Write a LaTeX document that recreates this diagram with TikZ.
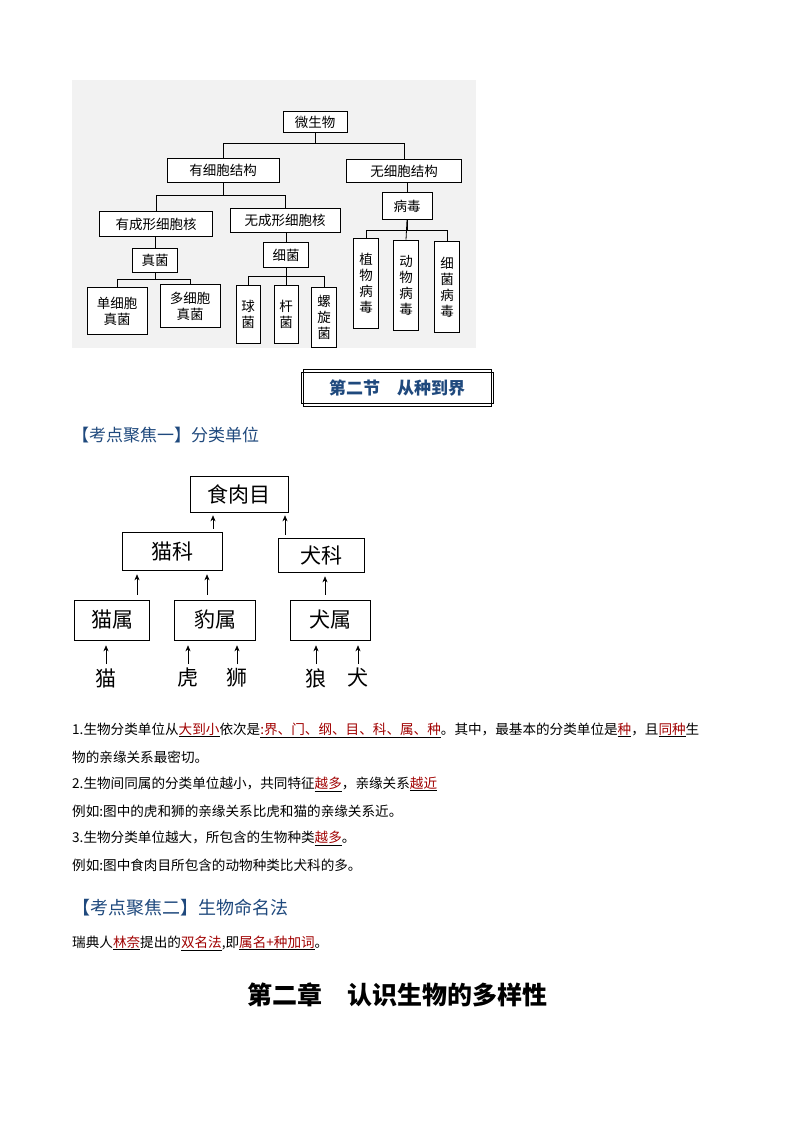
\documentclass[tikz,border=0pt]{standalone}
\usepackage{fontspec}
\setmainfont{Noto Sans CJK SC}
\usetikzlibrary{arrows.meta}
\definecolor{hblue}{RGB}{31,73,125}
\definecolor{dred}{RGB}{160,0,0}
\newcommand{\rd}[1]{\underline{\textcolor{dred}{#1}}}
\tikzset{
 b1/.style={draw,thick,fill=white,inner sep=0pt,align=center,font=\fontsize{13.5}{16}\selectfont},
 b2/.style={draw,semithick,inner sep=0pt,font=\fontsize{21}{22}\selectfont},
 lbl/.style={font=\fontsize{21}{22}\selectfont,inner sep=0pt},
 ln/.style={anchor=west,font=\fontsize{13.6}{15}\selectfont,inner sep=0pt},
 ar/.style={-{Stealth[length=6pt,width=5pt]},semithick}
}
\begin{document}
\begin{tikzpicture}[x=1pt,y=-1pt]
\useasboundingbox (0,0) rectangle (794,1123);
\fill[gray!10] (72,80) rectangle (476,348);
% top tree
\node[b1,minimum width=64pt,minimum height=21pt] (ws) at (315,122) {微生物};
\node[b1,minimum width=112pt,minimum height=24pt] (yx) at (223,170) {有细胞结构};
\node[b1,minimum width=115pt,minimum height=23pt] (wx) at (404,171) {无细胞结构};
\node[b1,minimum width=113pt,minimum height=25pt] (yc) at (156,224) {有成形细胞核};
\node[b1,minimum width=110pt,minimum height=24pt] (wc) at (285,220) {无成形细胞核};
\node[b1,minimum width=50pt,minimum height=27pt] (bd) at (407,206) {病毒};
\node[b1,minimum width=45pt,minimum height=24pt] (zj) at (155,260) {真菌};
\node[b1,minimum width=45pt,minimum height=25pt] (xj) at (286,255) {细菌};
\node[b1,minimum width=60pt,minimum height=47pt] (d1) at (117,311) {单细胞\\真菌};
\node[b1,minimum width=60pt,minimum height=43pt] (d2) at (190,306) {多细胞\\真菌};
\node[b1,minimum width=24pt,minimum height=58pt] (q1) at (248,314) {球\\菌};
\node[b1,minimum width=24pt,minimum height=58pt] (q2) at (286,314) {杆\\菌};
\node[b1,minimum width=25pt,minimum height=60pt] (q3) at (324,317) {螺\\旋\\菌};
\node[b1,minimum width=25pt,minimum height=90pt] (v1) at (366,283) {植\\物\\病\\毒};
\node[b1,minimum width=25pt,minimum height=90pt] (v2) at (406,285) {动\\物\\病\\毒};
\node[b1,minimum width=25pt,minimum height=91pt] (v3) at (447,287) {细\\菌\\病\\毒};
\draw[thick] (ws.south) -- ++(0,11) -| (yx.north);
\draw[thick] (ws.south) -- ++(0,11) -| (wx.north);
\draw[thick] (yx.south) -- ++(0,13) -| (yc.north);
\draw[thick] (yx.south) -- ++(0,13) -| (wc.north);
\draw[thick] (bd.north) -- (bd.north |- wx.south);
\draw[thick] (zj.north) -- (zj.north |- yc.south);
\draw[thick] (xj.north) -- (xj.north |- wc.south);
\draw[thick] (zj.south) -- ++(0,7) -| (d1.north);
\draw[thick] (zj.south) -- ++(0,7) -| (d2.north);
\draw[thick] (xj.south) -- ++(0,8) -| (q1.north);
\draw[thick] (xj.south) -- ++(0,8) -| (q3.north);
\draw[thick] (xj.south) -- (q2.north);
\draw[thick] (bd.south) -- ++(0,11) -| (v1.north);
\draw[thick] (bd.south) -- ++(0,11) -| (v3.north);
\draw[thick] (bd.south) -- (v2.north);
% section title
\node[draw,thick,minimum width=192pt,minimum height=31pt,text=hblue,font=\fontsize{17}{18}\selectfont\bfseries] (sec) at (397,388) {第二节\quad 从种到界};
\draw[semithick] ([shift={(2.5,-2.5)}]sec.north west) rectangle ([shift={(-2.5,2.5)}]sec.south east);
\node[anchor=west,text=hblue,font=\fontsize{17}{18}\selectfont,inner sep=0pt] (h1) at (72,435) {【考点聚焦一】分类单位};
% second tree
\node[b2,minimum width=98pt,minimum height=36pt] (sr) at (239,494) {食肉目};
\node[b2,minimum width=100pt,minimum height=38pt] (mk) at (172,551) {猫科};
\node[b2,minimum width=86pt,minimum height=34pt] (qk) at (321,555) {犬科};
\node[b2,minimum width=75pt,minimum height=40pt] (ms) at (112,620) {猫属};
\node[b2,minimum width=81pt,minimum height=40pt] (bs) at (215,620) {豹属};
\node[b2,minimum width=80pt,minimum height=40pt] (qs) at (330,620) {犬属};
\node[lbl] (m) at (106,678) {猫};
\node[lbl] (h) at (188,678) {虎};
\node[lbl] (s) at (237,678) {狮};
\node[lbl] (l) at (316,678) {狼};
\node[lbl] (q) at (358,678) {犬};
\draw[ar] ([yshift=3pt]mk.north -| 213,0) -- ([yshift=-3pt]sr.south -| 213,0);
\draw[ar] ([yshift=3pt]qk.north -| 285,0) -- ([yshift=-3pt]sr.south -| 285,0);
\draw[ar] ([yshift=5pt]ms.north -| 137,0) -- ([yshift=-4pt]mk.south -| 137,0);
\draw[ar] ([yshift=5pt]bs.north -| 207,0) -- ([yshift=-4pt]mk.south -| 207,0);
\draw[ar] ([yshift=5pt]qs.north -| 325,0) -- ([yshift=-4pt]qk.south -| 325,0);
\draw[ar] ([yshift=4pt]m.north) -- ([yshift=-5pt]ms.south -| m.north);
\draw[ar] ([yshift=4pt]h.north) -- ([yshift=-5pt]bs.south -| h.north);
\draw[ar] ([yshift=4pt]s.north) -- ([yshift=-5pt]bs.south -| s.north);
\draw[ar] ([yshift=4pt]l.north) -- ([yshift=-5pt]qs.south -| l.north);
\draw[ar] ([yshift=4pt]q.north) -- ([yshift=-5pt]qs.south -| q.north);
% text
\node[ln] (t1) at (72,730) {1.生物分类单位从\rd{大到小}依次是\rd{:界、门、纲、目、科、属、种}。其中，最基本的分类单位是\rd{种}，且\rd{同种}生};
\node[ln] (t2) at (72,757) {物的亲缘关系最密切。};
\node[ln] (t3) at (72,784) {2.生物间同属的分类单位越小，共同特征\rd{越多}，亲缘关系\rd{越近}};
\node[ln] (t4) at (72,811) {例如:图中的虎和狮的亲缘关系比虎和猫的亲缘关系近。};
\node[ln] (t5) at (72,838) {3.生物分类单位越大，所包含的生物种类\rd{越多}。};
\node[ln] (t6) at (72,865) {例如:图中食肉目所包含的动物种类比犬科的多。};
\node[anchor=west,text=hblue,font=\fontsize{18}{19}\selectfont,inner sep=0pt] (h2) at (72,908) {【考点聚焦二】生物命名法};
\node[ln] (t7) at (72,943) {瑞典人\rd{林奈}提出的\rd{双名法},即\rd{属名+种加词}。};
\node[font=\fontsize{25}{26}\selectfont\bfseries,inner sep=0pt] (ch) at (397,995) {第二章\quad 认识生物的多样性};
\end{tikzpicture}
\end{document}
